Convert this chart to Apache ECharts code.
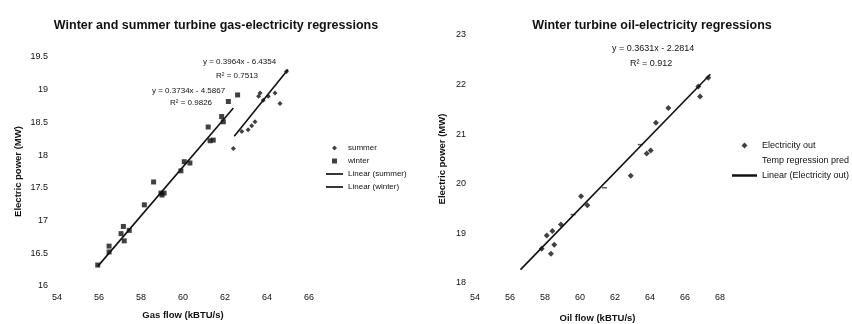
<!DOCTYPE html>
<html>
<head>
<meta charset="utf-8">
<script src="https://cdn.jsdelivr.net/npm/echarts@6/dist/echarts.min.js"></script>
<style>
  html, body { margin: 0; padding: 0; background: #fff; }
  #chart { width: 852px; height: 324px; }
</style>
</head>
<body>
<div id="chart"></div>
<script>
// gas chart (left)
const winterGas = [
  [55.94, 16.32], [56.48, 16.61], [56.48, 16.52], [57.16, 16.91], [57.05, 16.80],
  [57.44, 16.85], [57.2, 16.69], [58.16, 17.24], [58.6, 17.59], [58.95, 17.42],
  [59.1, 17.42], [59.0, 17.39], [59.9, 17.76], [60.06, 17.90], [60.33, 17.88],
  [61.2, 18.43], [61.44, 18.23], [61.29, 18.22], [61.84, 18.59], [61.92, 18.51],
  [62.16, 18.82], [62.6, 18.92]
];
const summerGas = [
  [62.4, 18.1], [62.8, 18.36], [63.1, 18.39], [63.27, 18.45], [63.43, 18.51],
  [63.6, 18.9], [63.67, 18.95], [63.82, 18.84], [64.06, 18.9], [64.38, 18.95],
  [64.62, 18.79], [64.93, 19.28]
];
const winterTrend = [[55.94, 16.30], [62.4, 18.72]];
const summerTrend = [[62.44, 18.29], [65.0, 19.31]];

// oil chart (right)
const oilPoints = [
  [57.81, 18.69], [58.34, 18.59], [58.53, 18.77], [58.1, 18.96], [58.42, 19.05],
  [58.91, 19.18], [60.06, 19.75], [60.42, 19.57], [62.9, 20.16], [63.81, 20.61],
  [64.04, 20.67], [64.34, 21.23], [65.05, 21.53], [66.76, 21.96], [66.86, 21.76],
  [67.33, 22.14]
];
const tempPred = [[61.4, 19.92], [63.45, 20.79], [59.6, 19.38]];
const oilTrend = [[56.6, 18.27], [67.45, 22.21]];

const font = 'Liberation Sans, Arial, sans-serif';
const ink = '#111';

// legend icons: keep markers small and lines thin
const diamondIcon = 'path://M0,-1L1,0L0,1L-1,0Z';
const squareIcon = 'path://M0,0H1V1H0Z';
const lineIcon = 'path://M0,0H24V2.4H0Z';

const chart = echarts.init(document.getElementById('chart'));

const axisBase = {
  type: 'value',
  nameLocation: 'middle',
  axisLine: { show: false },
  axisTick: { show: false },
  splitLine: { show: false },
  nameTextStyle: { fontFamily: font, fontSize: 9.5, color: ink, fontWeight: 'bold' },
  axisLabel: { fontFamily: font, fontSize: 9, color: ink }
};

const option = {
  backgroundColor: '#fff',
  animation: false,
  title: [
    {
      text: 'Winter and summer turbine gas-electricity regressions',
      left: 211, top: 14, textAlign: 'center',
      textStyle: { fontFamily: font, fontSize: 12.5, fontWeight: 'bold', color: ink }
    },
    {
      text: 'Winter turbine oil-electricity regressions',
      left: 647, top: 14, textAlign: 'center',
      textStyle: { fontFamily: font, fontSize: 12.5, fontWeight: 'bold', color: ink }
    }
  ],
  grid: [
    { left: 57, top: 57, width: 252, height: 229, outerBoundsMode: 'none' },
    { left: 475, top: 35, width: 245, height: 248, outerBoundsMode: 'none' }
  ],
  xAxis: [
    Object.assign({}, axisBase, {
      gridIndex: 0, min: 54, max: 66, interval: 2,
      name: 'Gas flow (kBTU/s)', nameGap: 24,
      axisLabel: Object.assign({}, axisBase.axisLabel, { margin: 7 })
    }),
    Object.assign({}, axisBase, {
      gridIndex: 1, min: 54, max: 68, interval: 2,
      name: 'Oil flow (kBTU/s)', nameGap: 30,
      axisLabel: Object.assign({}, axisBase.axisLabel, { margin: 10 })
    })
  ],
  yAxis: [
    Object.assign({}, axisBase, {
      gridIndex: 0, min: 16, max: 19.5, interval: 0.5,
      name: 'Electric power (MW)', nameGap: 34,
      axisLabel: Object.assign({}, axisBase.axisLabel, { margin: 9 })
    }),
    Object.assign({}, axisBase, {
      gridIndex: 1, min: 18, max: 23, interval: 1,
      name: 'Electric power (MW)', nameGap: 28,
      axisLabel: Object.assign({}, axisBase.axisLabel, { margin: 9 })
    })
  ],
  legend: [
    {
      orient: 'vertical', left: 321, top: 139, itemGap: 5,
      itemWidth: 17, itemHeight: 5, symbolKeepAspect: true,
      data: [
        { name: 'summer', icon: diamondIcon },
        { name: 'winter', icon: squareIcon },
        { name: 'Linear (summer)', icon: lineIcon },
        { name: 'Linear (winter)', icon: lineIcon }
      ],
      textStyle: { fontFamily: font, fontSize: 8, color: ink }
    },
    {
      orient: 'vertical', left: 727, top: 136, itemGap: 6,
      itemWidth: 25, itemHeight: 6, symbolKeepAspect: true,
      data: [
        { name: 'Electricity out', icon: diamondIcon },
        { name: 'Temp regression pred', itemStyle: { opacity: 0 } },
        { name: 'Linear (Electricity out)', icon: lineIcon }
      ],
      textStyle: { fontFamily: font, fontSize: 9, color: ink }
    }
  ],
  series: [
    {
      name: 'summer', type: 'scatter', xAxisIndex: 0, yAxisIndex: 0,
      symbol: 'diamond', symbolSize: 5, itemStyle: { color: ink },
      data: summerGas
    },
    {
      name: 'winter', type: 'scatter', xAxisIndex: 0, yAxisIndex: 0,
      symbol: 'rect', symbolSize: 5, itemStyle: { color: ink },
      data: winterGas
    },
    {
      name: 'Linear (summer)', type: 'line', xAxisIndex: 0, yAxisIndex: 0,
      symbol: 'none', lineStyle: { color: ink, width: 1.6 }, itemStyle: { color: ink },
      data: summerTrend
    },
    {
      name: 'Linear (winter)', type: 'line', xAxisIndex: 0, yAxisIndex: 0,
      symbol: 'none', lineStyle: { color: ink, width: 1.6 }, itemStyle: { color: ink },
      data: winterTrend
    },
    {
      name: 'Electricity out', type: 'scatter', xAxisIndex: 1, yAxisIndex: 1,
      symbol: 'diamond', symbolSize: 6, itemStyle: { color: ink },
      data: oilPoints
    },
    {
      name: 'Temp regression pred', type: 'scatter', xAxisIndex: 1, yAxisIndex: 1,
      symbol: 'rect', symbolSize: [5, 1.5], itemStyle: { color: '#333' },
      data: tempPred
    },
    {
      name: 'Linear (Electricity out)', type: 'line', xAxisIndex: 1, yAxisIndex: 1,
      symbol: 'none', lineStyle: { color: ink, width: 1.6 }, itemStyle: { color: ink },
      data: oilTrend
    }
  ],
  graphic: [
    { type: 'text', left: 203, top: 58, style: { text: 'y = 0.3964x - 6.4354', font: '8px ' + font, fill: ink } },
    { type: 'text', left: 216, top: 72, style: { text: 'R² = 0.7513', font: '8px ' + font, fill: ink } },
    { type: 'text', left: 152, top: 87, style: { text: 'y = 0.3734x - 4.5867', font: '8px ' + font, fill: ink } },
    { type: 'text', left: 170, top: 99, style: { text: 'R² = 0.9826', font: '8px ' + font, fill: ink } },
    { type: 'text', left: 612, top: 44, style: { text: 'y = 0.3631x - 2.2814', font: '9px ' + font, fill: ink } },
    { type: 'text', left: 630, top: 59, style: { text: 'R² = 0.912', font: '9px ' + font, fill: ink } }
  ]
};

chart.setOption(option);
</script>
</body>
</html>
